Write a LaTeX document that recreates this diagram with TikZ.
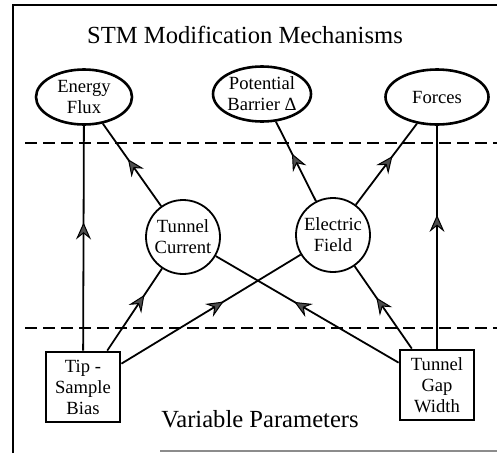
\documentclass[tikz,border=0pt]{standalone}
\usepackage{fontspec}
\setmainfont{Liberation Serif}
\usetikzlibrary{shapes.geometric,arrows.meta,decorations.markings}
\begin{document}
\begin{tikzpicture}[x=1pt,y=-1pt,
  every node/.style={font=\fontsize{18.6}{21}\selectfont,align=center,inner sep=0pt},
  mech/.style={ellipse,draw,line width=2.6pt,minimum width=96pt,minimum height=55pt},
  effect/.style={circle,draw,line width=1.8pt,minimum size=74pt},
  param/.style={rectangle,draw,line width=2.8pt,minimum width=74pt,minimum height=70pt},
  heading/.style={font=\fontsize{24.6}{29}\selectfont,anchor=base},
  link/.style={line width=1.8pt,postaction={decorate},
    decoration={markings,mark=at position #1 with
      {\arrow{Stealth[length=17pt,width=15pt,inset=6pt,line width=1pt,fill=black!70]}}}},
  link/.default=0.57,
  divider/.style={line width=2.4pt,dash pattern=on 12pt off 6pt}]
  \useasboundingbox (0,0) rectangle (497,453);
  \draw[line width=1.5pt] (13,453) -- (13,5) -- (497,5);
  \draw[line width=1.2pt,black!45] (160,451) -- (497,451);

  \node[heading] (title) at (245,43) {STM Modification Mechanisms};
  \node[mech] (flux) at (84,97) {Energy\\Flux};
  \node[mech] (barrier) at (262,94) {Potential\\Barrier Δ};
  \node[mech,minimum width=103pt] (forces) at (437,97) {Forces};
  \node[effect] (current) at (183,237) {Tunnel\\Current};
  \node[effect] (field) at (333,235) {Electric\\Field};
  \node[param] (bias) at (83,387) {Tip -\\Sample\\Bias};
  \node[param] (gap) at (437,385) {Tunnel\\Gap\\Width};
  \node[heading] (varpar) at (260,427) {Variable Parameters};

  \draw[divider] (25,143) -- (497,143);
  \draw[divider] (25,328) -- (497,328);

  \draw[link] (bias) -- (flux);
  \draw[link] (current) -- (flux);
  \draw[link=0.6] (field) -- (barrier);
  \draw[link=0.6] (field) -- (forces);
  \draw[link=0.6] (gap) -- (forces);
  \draw[link=0.68] (bias) -- (current);
  \draw[link] (bias) -- (field);
  \draw[link] (gap) -- (current);
  \draw[link=0.62] (gap) -- (field);
\end{tikzpicture}
\end{document}
